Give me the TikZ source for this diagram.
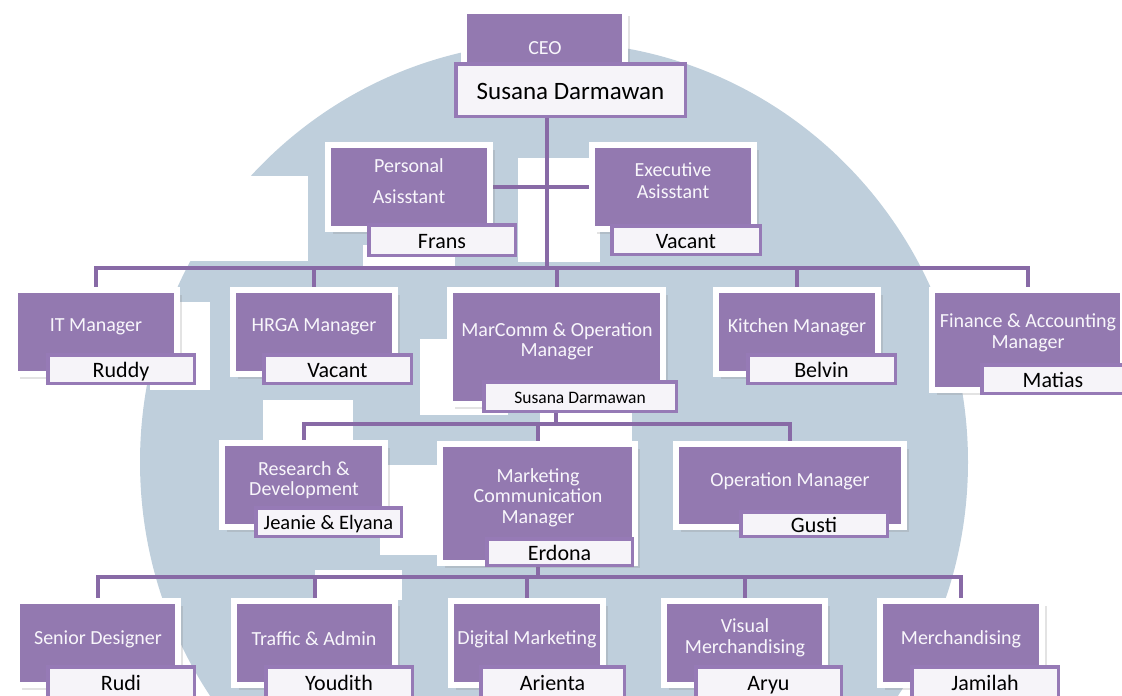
\documentclass[tikz,border=0pt]{standalone}
\usepackage{fontspec}
\setmainfont{Carlito}
\usetikzlibrary{shadows}
\pgfdeclarelayer{wmlayer}
\pgfdeclarelayer{connlayer}
\pgfsetlayers{wmlayer,connlayer,main}
\definecolor{boxpurple}{RGB}{147,121,176}
\definecolor{lblpurple}{RGB}{150,122,182}
\definecolor{lblfill}{RGB}{246,244,249}
\definecolor{connpurple}{RGB}{136,106,166}
\definecolor{wmblue}{RGB}{191,207,220}
\definecolor{ttlwhite}{RGB}{248,246,251}
\tikzset{
  box/.style={draw=white, line width=6pt, fill=boxpurple, inner sep=0pt,
    drop shadow={shadow xshift=5pt, shadow yshift=-5pt, opacity=0.22}},
  lbl/.style={draw=lblpurple, line width=3.5pt, fill=lblfill, inner sep=0pt,
    text=black, font=\fontsize{22}{22}\selectfont, text height=18pt, text depth=2pt},
  ttl/.style={text=ttlwhite, font=\fontsize{20}{20.5}\selectfont, align=center, inner sep=0pt},
  conn/.style={draw=connpurple, line width=4pt},
  wm/.style={fill=wmblue},
  wmw/.style={fill=white}
}
\newcommand\mkbox[5]{%
  \pgfmathsetmacro\bw{#4-#2-6}\pgfmathsetmacro\bh{#5-#3-6}%
  \node[box, minimum width=\bw pt, minimum height=\bh pt] (#1) at ({(#2+#4)/2},{(#3+#5)/2}) {};}
\newcommand\mklbl[7][]{%
  \pgfmathsetmacro\bw{#5-#3-3.5}\pgfmathsetmacro\bh{#6-#4-3.5}%
  \node[lbl, #1, minimum width=\bw pt, minimum height=\bh pt] (#2) at ({(#3+#5)/2},{(#4+#6)/2}) {#7};}
\begin{document}
\begin{tikzpicture}[x=1pt, y=-1pt]
\useasboundingbox (0,0) rectangle (1122,696);
\clip (0,0) rectangle (1122,696);
% watermark
\begin{pgfonlayer}{wmlayer}
\fill[wm] (554,462) ellipse [x radius=414, y radius=420];
\fill[wmw] (150,176) rectangle (308,261);
\fill[wmw] (150,302) rectangle (210,390);
\fill[wmw] (263,400) rectangle (353,445);
\fill[wmw] (420,339) rectangle (508,415);
\fill[wmw] (380,465) rectangle (437,555);
\fill[wmw] (540,405) rectangle (632,442);
\fill[wmw] (315,570) rectangle (402,600);
\fill[wmw] (518,158) rectangle (600,262);
\fill[wmw] (363,245) rectangle (455,266);
\end{pgfonlayer}
% boxes (frames)
\mkbox{ceo}{461}{8}{628}{100}
\mkbox{pa}{325}{142}{493}{232}
\mkbox{ea}{589}{142}{757}{232}
\mkbox{it}{12}{287}{180}{377}
\mkbox{hrga}{230}{287}{398}{377}
\mkbox{mc}{447}{287}{666}{407}
\mkbox{kit}{713}{287}{881}{377}
\mkbox{fin}{929}{287}{1126}{393}
\mkbox{rd}{219}{440}{388}{530}
\mkbox{mk}{437}{441}{638}{566}
\mkbox{op}{673}{441}{907}{530}
\mkbox{sd}{14}{598}{181}{688}
\mkbox{tr}{231}{598}{398}{688}
\mkbox{dm}{448}{598}{606}{688}
\mkbox{vm}{661}{598}{828}{688}
\mkbox{me}{877}{598}{1045}{688}
% titles
\node[ttl] (ceoT) at (545,48) {CEO};
\node[ttl] (paT) at (409,181) {Personal\\[11pt]Asisstant};
\node[ttl] (eaT) at (673,181) {Executive\\[1.5pt]Asisstant};
\node[ttl] (itT) at (96,327) {IT Manager};
\node[ttl] (hrgaT) at (314,327) {HRGA Manager};
\node[ttl] (mcT) at (557,341.5) {MarComm \& Operation\\Manager};
\node[ttl] (kitT) at (797,327) {Kitchen Manager};
\node[ttl] (finT) at (1028,333) {Finance \& Accounting\\Manager};
\node[ttl] (rdT) at (304,480) {Research \&\\Development};
\node[ttl] (mkT) at (538,497.5) {Marketing\\Communication\\Manager};
\node[ttl] (opT) at (790,481) {Operation Manager};
\node[ttl] (sdT) at (98,639) {Senior Designer};
\node[ttl] (trT) at (314,639) {Traffic \& Admin};
\node[ttl] (dmT) at (527,639) {Digital Marketing};
\node[ttl] (vmT) at (745,638) {Visual\\Merchandising};
\node[ttl] (meT) at (961,639) {Merchandising};
% name labels
\mklbl[font=\fontsize{25}{25}\selectfont, text height=20pt, text depth=1pt]{ceoL}{454}{62}{687}{118}{Susana Darmawan}
\mklbl{paL}{367}{223}{517}{257}{Frans}
\mklbl{eaL}{610}{224}{762}{256}{Vacant}
\mklbl{itL}{46}{353}{196}{385}{Ruddy}
\mklbl{hrgaL}{262}{353}{413}{385}{Vacant}
\mklbl[font=\fontsize{17.5}{17.5}\selectfont, text height=14pt, text depth=1pt]{mcL}{482}{380}{678}{413}{Susana Darmawan}
\mklbl{kitL}{746}{353}{897}{385}{Belvin}
\mklbl{finL}{980}{363}{1126}{395}{Matias}
\mklbl[font=\fontsize{20.5}{20.5}\selectfont, text height=16pt, text depth=2pt]{rdL}{254}{506}{403}{538}{Jeanie \& Elyana}
\mklbl{mkL}{485}{537}{634}{567}{Erdona}
\mklbl{opL}{739}{510}{889}{538}{Gusti}
\mklbl{sdL}{46}{665}{196}{700}{Rudi}
\mklbl{trL}{264}{665}{414}{700}{Youdith}
\mklbl{dmL}{479}{665}{626}{700}{Arienta}
\mklbl{vmL}{694}{665}{843}{700}{Aryu}
\mklbl{meL}{910}{665}{1060}{700}{Jamilah}
% connectors (drawn beneath the boxes)
\coordinate (bus1) at (547,268);
\coordinate (bus2) at (556,424);
\coordinate (bus3) at (538,577);
\begin{pgfonlayer}{connlayer}
\draw[conn] (bus1 |- ceoL.south) -- (bus1);
\draw[conn] (pa.east) -- (ea.west);
\draw[conn] (it.north) |- (bus1) -| (fin.north);
\draw[conn] (hrga.north) -- (hrga.north |- bus1);
\draw[conn] (mc.north) -- (mc.north |- bus1);
\draw[conn] (kit.north) -- (kit.north |- bus1);
\draw[conn] (bus2 |- mcL.south) -- (bus2);
\draw[conn] (rd.north) |- (bus2) -| (op.north);
\draw[conn] (mk.north) -- (mk.north |- bus2);
\draw[conn] (bus3 |- mkL.south) -- (bus3);
\draw[conn] (sd.north) |- (bus3) -| (me.north);
\draw[conn] (tr.north) -- (tr.north |- bus3);
\draw[conn] (dm.north) -- (dm.north |- bus3);
\draw[conn] (vm.north) -- (vm.north |- bus3);
\end{pgfonlayer}
\end{tikzpicture}
\end{document}
